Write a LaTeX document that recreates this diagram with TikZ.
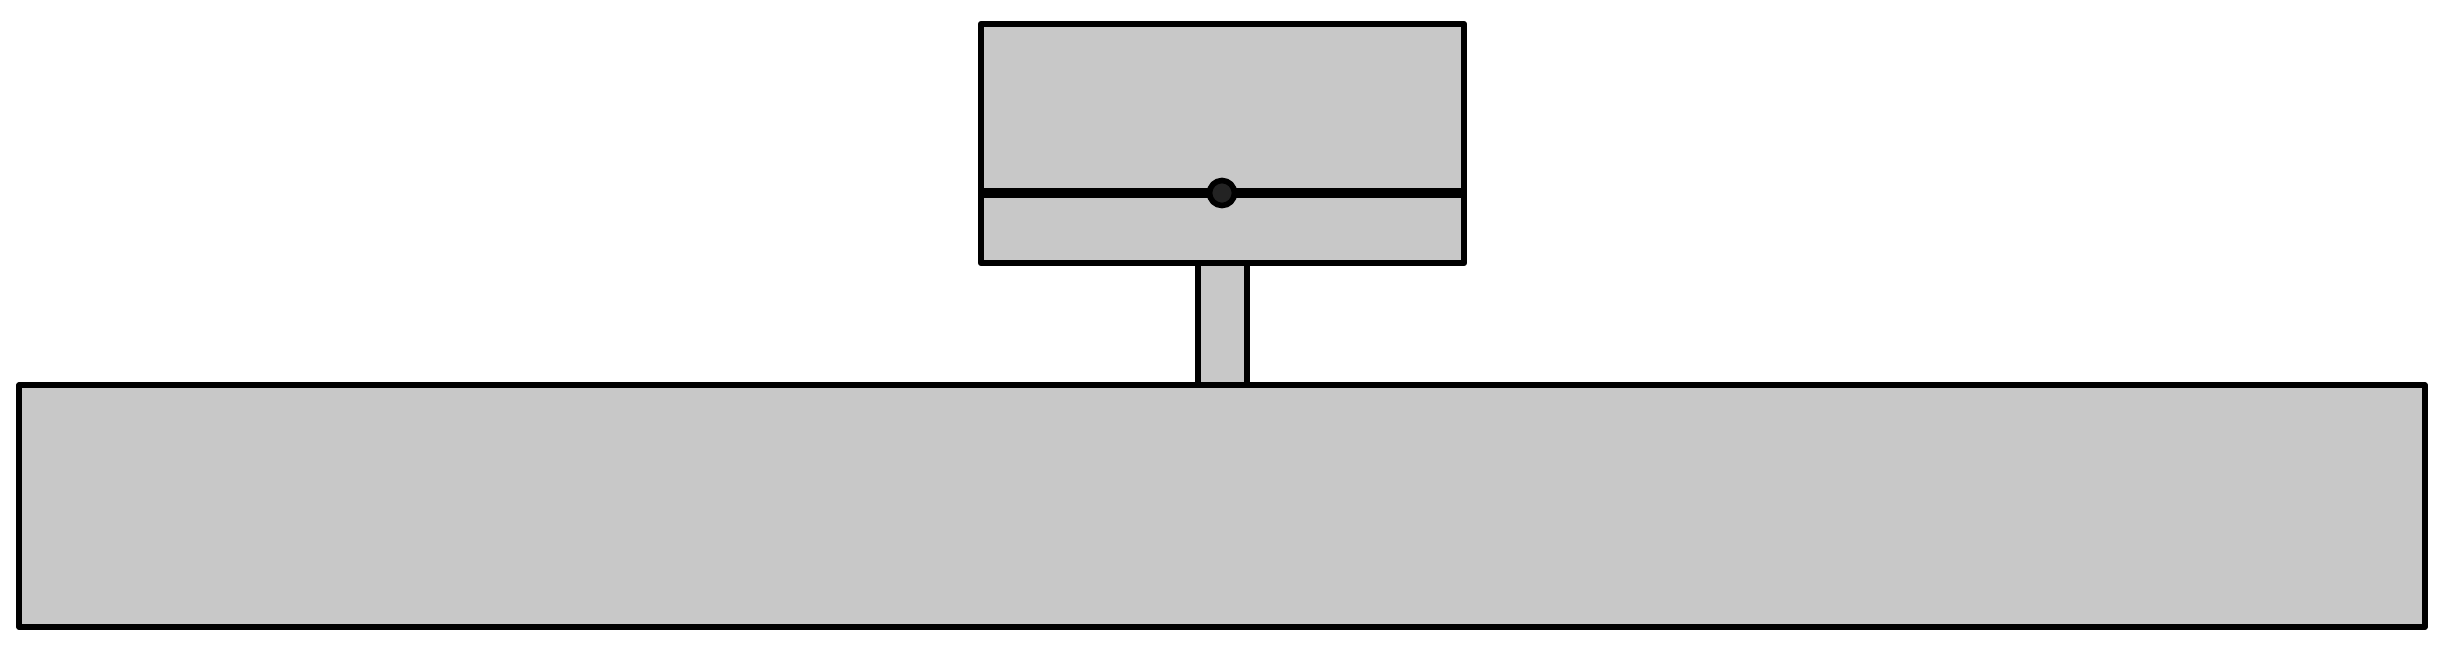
\documentclass[tikz,border=0pt]{standalone}
\definecolor{partgray}{RGB}{200,200,200}
\definecolor{pivotgray}{RGB}{35,35,35}
\tikzset{
  part/.style={draw=black, fill=partgray, line width=1.7pt, line join=round, rectangle, inner sep=0pt, outer sep=0pt},
  bar/.style={draw=black, line width=3pt},
  pivot/.style={circle, draw=black, fill=pivotgray, line width=1.6pt, minimum size=0.25cm, inner sep=0pt}
}
\begin{document}
\begin{tikzpicture}[x=0.01cm, y=-0.01cm]
\useasboundingbox (0,0) rectangle (2450,650);
% stem
\node[part, minimum width=0.49cm, minimum height=1.22cm] (stem) at (1222.5,324) {};
% base
\node[part, minimum width=24.04cm, minimum height=2.42cm] (base) at (1222,506) {};
% head box
\node[part, minimum width=4.83cm, minimum height=2.39cm] (head) at (1222.5,143.5) {};
\coordinate (barL) at (981,193);
\coordinate (barR) at (1464,193);
\draw[bar] (barL) -- (barR);
\node[pivot] (pin) at (1222,193) {};
\end{tikzpicture}
\end{document}
